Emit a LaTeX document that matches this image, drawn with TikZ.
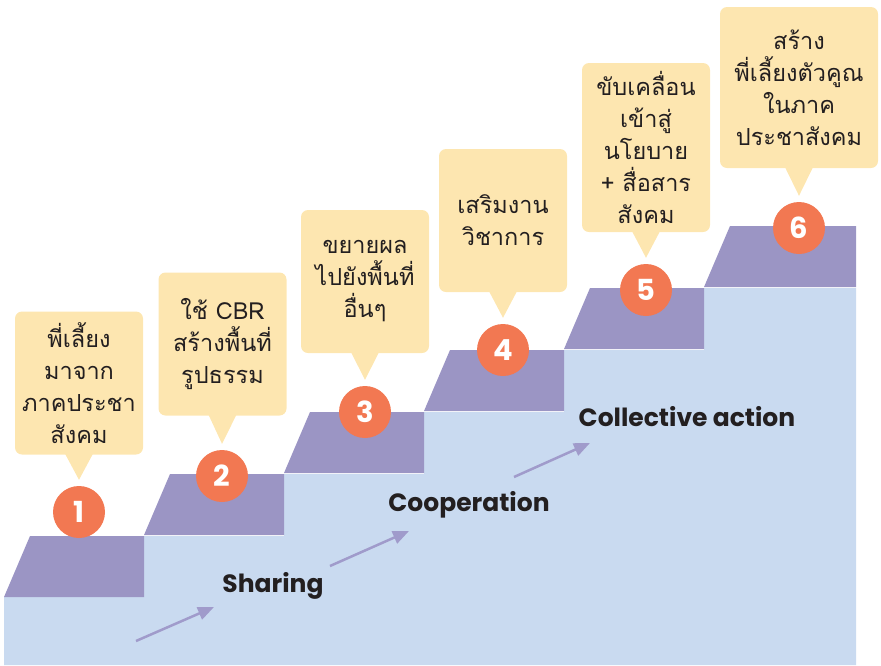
\documentclass[tikz,border=0pt]{standalone}
\usepackage{fontspec}
\newfontfamily\thaifont[Script=Thai]{Loma}
\newfontfamily\engfont{Poppins}
\usetikzlibrary{arrows.meta}
\definecolor{stepblue}{HTML}{C9DAF0}
\definecolor{steppurple}{HTML}{9B95C4}
\definecolor{badgeorange}{HTML}{F27852}
\definecolor{bubbleyellow}{HTML}{FDE6B0}
\definecolor{textdark}{HTML}{231F20}
\definecolor{climbpurple}{HTML}{A09BCB}
\tikzset{
  bubble/.style={fill=bubbleyellow,rounded corners=7pt,minimum width=128pt,minimum height=143pt,
    inner sep=0pt,align=center,text=textdark,font=\thaifont\fontsize{23.5}{32}\selectfont},
  badge/.style={circle,fill=badgeorange,minimum size=52pt,inner sep=0pt,text=white,
    font=\engfont\bfseries\fontsize{29}{29}\selectfont},
  phase/.style={text=textdark,font=\engfont\bfseries\fontsize{25}{28}\selectfont},
  climb/.style={draw=climbpurple,line width=2.5pt,-{Triangle[length=16pt,width=13pt]}}
}

\begin{document}
\begin{tikzpicture}[x=1pt,y=-1pt]
\useasboundingbox (0,0) rectangle (881,665);
\fill[stepblue] (4,665) -- (4,597) -- (144,597) -- (144,536) -- (284,536) -- (284,474)
  -- (424,474) -- (424,412) -- (564,412) -- (564,350) -- (704,350) -- (704,288)
  -- (856,288) -- (856,665) -- cycle;
\foreach \k/\r in {0/144,1/284,2/424,3/564,4/704,5/856}
\fill[steppurple] (4+140*\k,597-62*\k) -- ++(26,-61) -- (\r,536-62*\k) -- (\r,597-62*\k) -- cycle;

\foreach \k/\x/\y in {1/79/512,2/222/476,3/365/412,4/503/350,5/646/290,6/799/228}
\node[badge] (c\k) at (\x,\y) {\k};

\node[bubble] (b1) at (79,383) {พี่เลี้ยง\\มาจาก\\ภาคประชา\\สังคม};
\node[bubble] (b2) at (222.5,344) {ใช้ CBR\\สร้างพื้นที่\\รูปธรรม};
\node[bubble] (b3) at (365,281.5) {ขยายผล\\ไปยังพื้นที่\\อื่นๆ};
\node[bubble] (b4) at (503,220.5) {เสริมงาน\\วิชาการ};
\node[bubble,minimum height=169pt] (b5) at (646,147.5) {ขับเคลื่อน\\เข้าสู่\\นโยบาย\\+ สื่อสาร\\สังคม};
\node[bubble,minimum width=158pt,minimum height=161pt] (b6) at (799,87.5) {สร้าง\\พี่เลี้ยงตัวคูณ\\ในภาค\\ประชาสังคม};
\foreach \k in {1,...,6}
\fill[bubbleyellow] ([xshift=-14pt,yshift=1pt]b\k.south) -- ([yshift=6pt]c\k.north) -- ([xshift=14pt,yshift=1pt]b\k.south) -- cycle;

\node[phase] (sharing) at (273,586) {Sharing};
\node[phase] (coop) at (469,505) {Cooperation};
\node[phase] (collect) at (687,417) {Collective action};
\coordinate (a1) at (136,641);
\coordinate (a2) at (330,566);
\coordinate (a3) at (514,477);
\draw[climb] (a1) -- (214,607);
\draw[climb] (a2) -- (409,531);
\draw[climb] (a3) -- (590,443);
\end{tikzpicture}
\end{document}
